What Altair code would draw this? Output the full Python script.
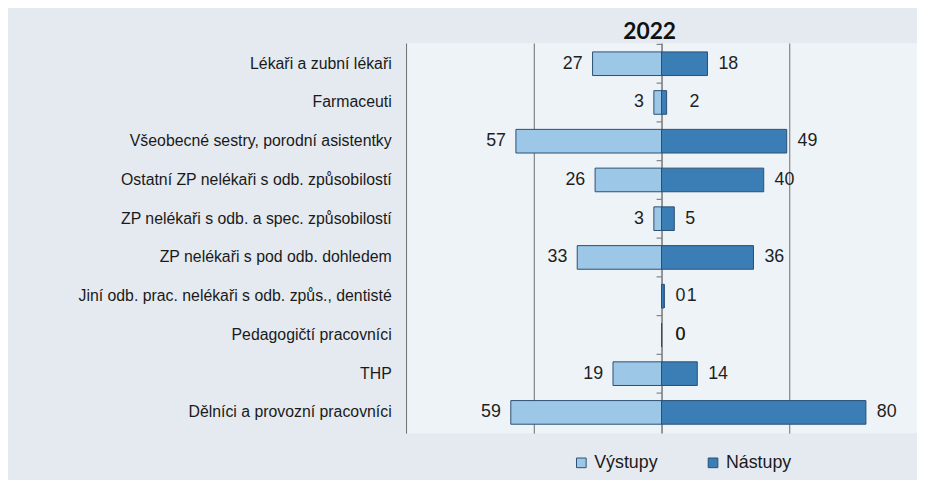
import altair as alt
import pandas as pd

categories = [
    "Lékaři a zubní lékaři",
    "Farmaceuti",
    "Všeobecné sestry, porodní asistentky",
    "Ostatní ZP nelékaři s odb. způsobilostí",
    "ZP nelékaři s odb. a spec. způsobilostí",
    "ZP nelékaři s pod odb. dohledem",
    "Jiní odb. prac. nelékaři s odb. způs., dentisté",
    "Pedagogičtí pracovníci",
    "THP",
    "Dělníci a provozní pracovníci",
]
vystupy = [27, 3, 57, 26, 3, 33, 0, 0, 19, 59]
nastupy = [18, 2, 49, 40, 5, 36, 1, 0, 14, 80]
series = ["Výstupy", "Nástupy"]
colors = ["#9cc7e6", "#3b7db5"]

rows = []
for c, v, n in zip(categories, vystupy, nastupy):
    rows.append({"category": c, "series": "Výstupy", "value": v, "signed": -v})
    rows.append({"category": c, "series": "Nástupy", "value": n, "signed": n})
df = pd.DataFrame(rows)

W, H = 516, 394
FONT = "Liberation Sans"

yscale = alt.Scale(paddingInner=0.39, paddingOuter=0.23)
xscale = alt.Scale(domain=[-100, 100], nice=False, zero=False)
xaxis = alt.Axis(
    title=None,
    values=[-100, -50, 50],
    grid=True,
    gridColor="#6d6d6d",
    gridWidth=1,
    labels=False,
    ticks=False,
    domain=False,
)

base = alt.Chart(df)

bars = base.mark_bar(stroke="#2a4f73", strokeWidth=1).encode(
    y=alt.Y(
        "category:N",
        sort=categories,
        scale=yscale,
        axis=alt.Axis(
            title=None,
            labels=True,
            ticks=False,
            domain=False,
            labelFont=FONT,
            labelFontSize=16,
            labelColor="#1a1a1a",
            labelPadding=15,
            labelLimit=0,
        ),
    ),
    x=alt.X("signed:Q", scale=xscale, axis=xaxis),
    color=alt.Color(
        "series:N",
        scale=alt.Scale(domain=series, range=colors),
        legend=alt.Legend(
            title=None,
            orient="none",
            legendX=168,
            legendY=415,
            direction="horizontal",
            symbolType="square",
            symbolSize=95,
            symbolStrokeColor="#2a4f73",
            symbolStrokeWidth=1,
            labelFont=FONT,
            labelFontSize=18,
            labelColor="#1a1a1a",
            labelOffset=4,
            columnPadding=46,
            padding=0,
        ),
    ),
)

center_axis = base.mark_bar(opacity=0).encode(
    y=alt.Y(
        "category:N",
        sort=categories,
        scale=yscale,
        axis=alt.Axis(
            title=None,
            orient="left",
            offset=-W / 2,
            labels=False,
            ticks=False,
            domainColor="#555555",
            domainWidth=1.2,
        ),
    ),
)

center_ticks = base.transform_filter(alt.datum.series == "Výstupy").mark_tick(
    orient="horizontal", size=5, thickness=1.2, color="#555555", yOffset=-19.5, xOffset=-2.5
).encode(
    y=alt.Y("category:N", sort=categories, axis=None),
    x=alt.datum(0, scale=xscale, axis=xaxis),
)

text_common = dict(fontSize=18, font=FONT, color="#1f1f1f", baseline="middle")

def label_layer(flt, align, dx):
    return base.transform_filter(flt).mark_text(align=align, dx=dx, **text_common).encode(
        y=alt.Y("category:N", sort=categories, axis=None),
        x=alt.X("signed:Q", scale=xscale, axis=xaxis),
        text=alt.Text("value:Q"),
    )

lab_v = label_layer((alt.datum.series == "Výstupy") & (alt.datum.value > 0), "right", -10)
lab_zero = label_layer(alt.datum.value == 0, "left", 14)
lab_n = label_layer((alt.datum.series == "Nástupy") & (alt.datum.value >= 3), "left", 11)
lab_n_small = label_layer(
    (alt.datum.series == "Nástupy") & (alt.datum.value > 0) & (alt.datum.value < 3), "left", 23
)

chart = (
    alt.layer(bars, center_axis, center_ticks, lab_v, lab_zero, lab_n, lab_n_small)
    .resolve_axis(y="independent")
    .properties(
        width=W,
        height=H,
        title=alt.TitleParams(
            "2022",
            font="Lato",
            fontSize=23,
            fontWeight="bold",
            color="#111111",
            anchor="middle",
            frame="group",
            dx=-12,
            offset=-1,
        ),
        autosize=alt.AutoSizeParams(type="none"),
        padding={"left": 402, "top": 33, "right": 0, "bottom": 45},
        background="#e5eaf0",
    )
    .configure_view(stroke=None, fill="#edf3f7")
)

chart.save("out.html", embed_options={"renderer": "svg", "actions": False})
